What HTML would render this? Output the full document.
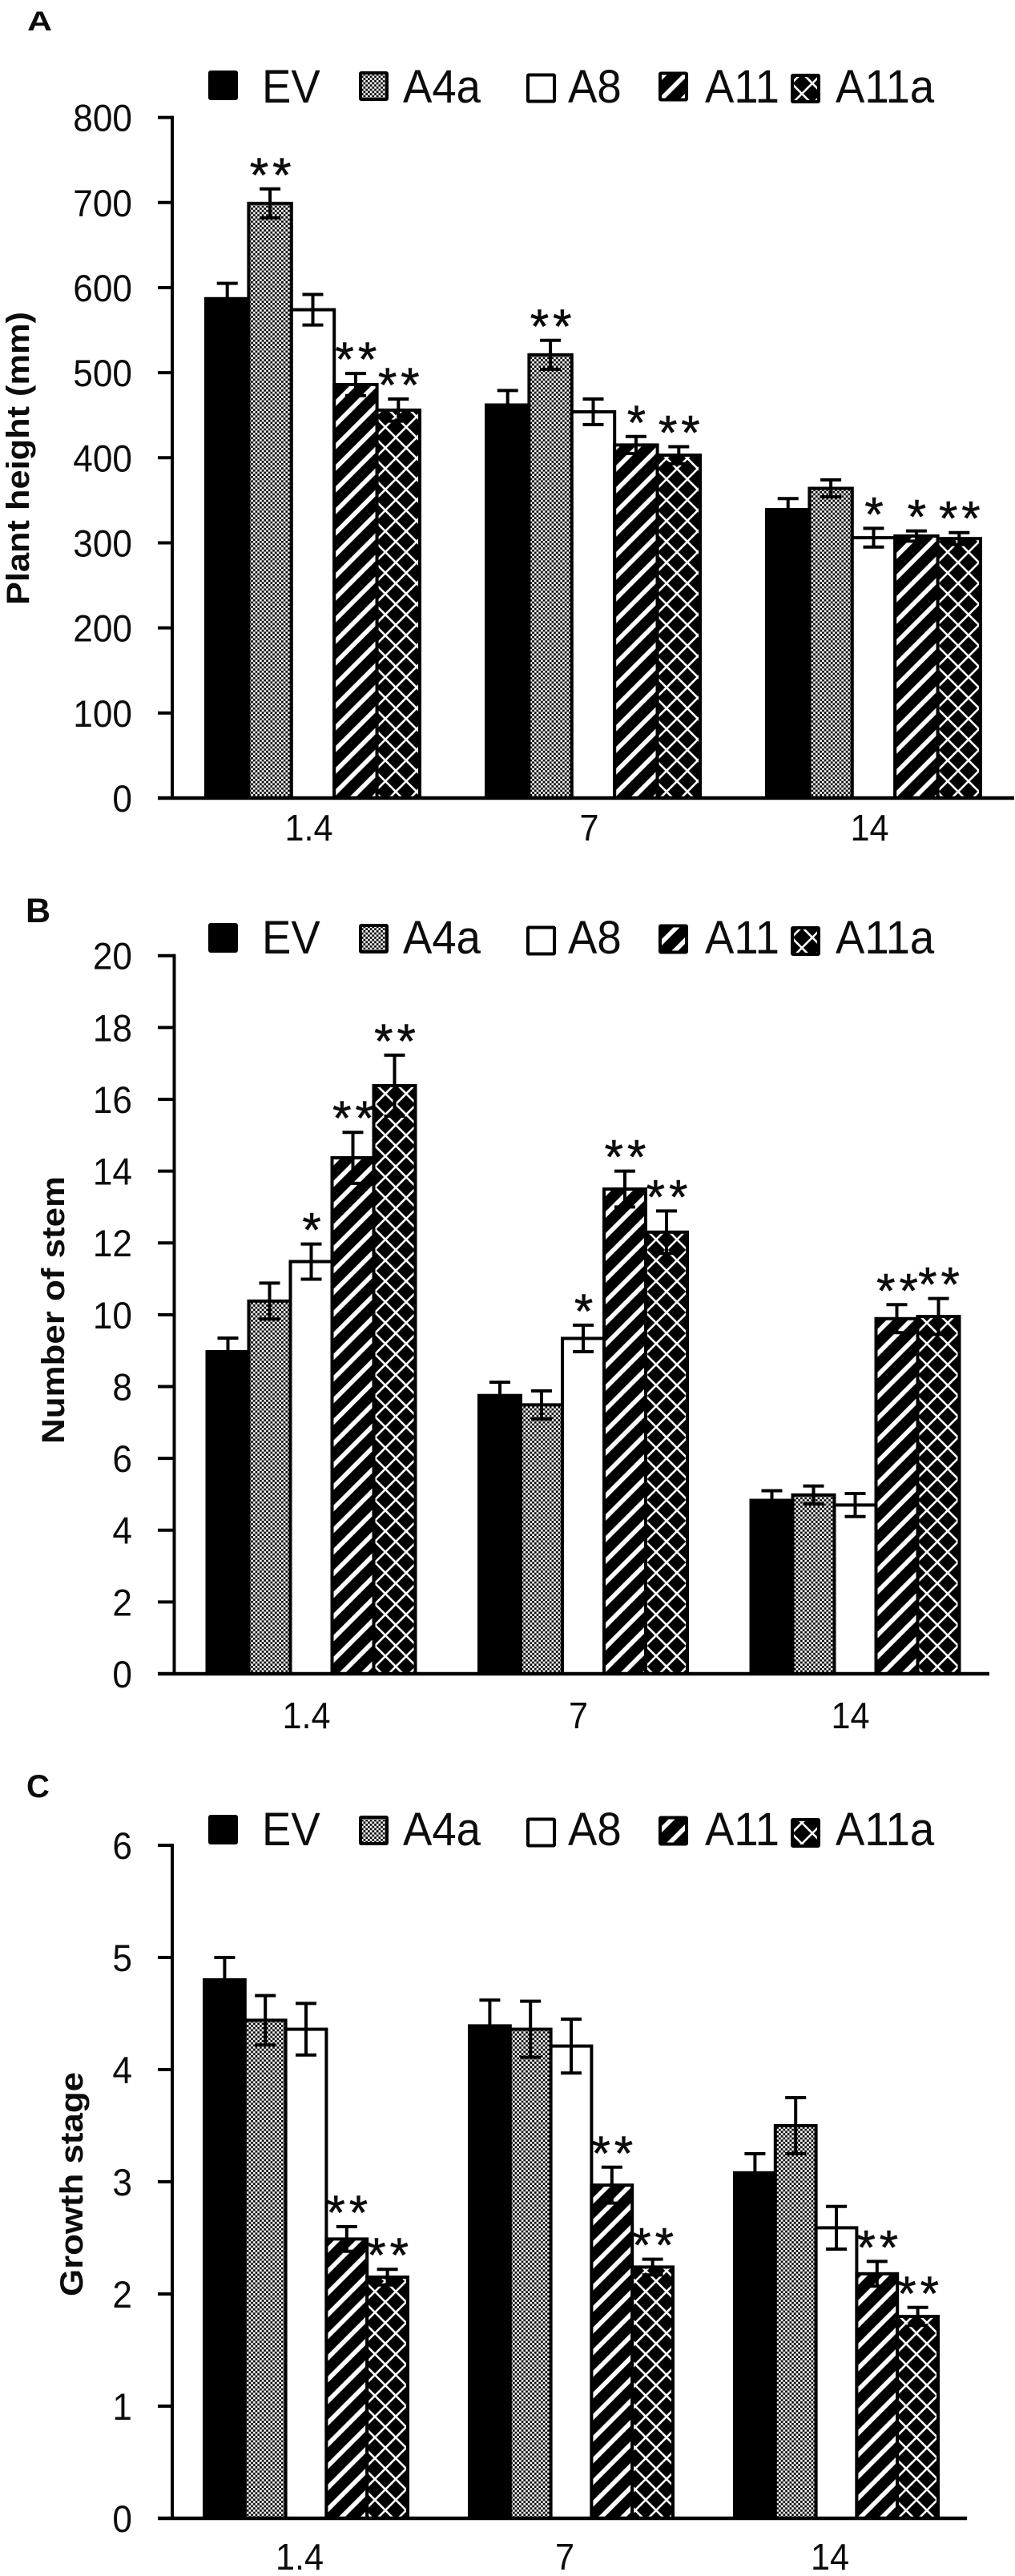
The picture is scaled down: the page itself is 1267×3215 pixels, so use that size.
<!DOCTYPE html>
<html lang="en">
<head>
<meta charset="utf-8">
<title>Plant height, number of stem and growth stage</title>
<style>
html,body{margin:0;padding:0;background:#fff;width:1267px;height:3215px;overflow:hidden}
svg{display:block;position:absolute;left:0;top:0}
text{font-family:"Liberation Sans",Arial,sans-serif;fill:#0c0c0c}
</style>
</head>
<body>
<svg id="figure" xmlns="http://www.w3.org/2000/svg" width="1267" height="3215" viewBox="0 0 1267 3215">
<defs>
<pattern id="pat-check" patternUnits="userSpaceOnUse" width="5.4" height="5.4">
<rect width="5.4" height="5.4" fill="#fff"/>
<rect width="2.7" height="2.7" fill="#000"/>
<rect x="2.7" y="2.7" width="2.7" height="2.7" fill="#000"/>
</pattern>
<pattern id="pat-stripe" patternUnits="userSpaceOnUse" width="27" height="27">
<rect width="27" height="27" fill="#000"/>
<polygon points="0,27 27,0 27,8 8,27" fill="#fff"/>
<polygon points="0,0 0,8 8,0" fill="#fff"/>
</pattern>
<pattern id="pat-lattice" patternUnits="userSpaceOnUse" width="26" height="26">
<rect width="26" height="26" fill="#000"/>
<path d="M0 0L26 26M26 0L0 26" stroke="#fff" stroke-width="2.6"/>
</pattern>
</defs>
</svg>
<script>
const categories = ['1.4', '7', '14'];
const seriesNames = ['EV', 'A4a', 'A8', 'A11', 'A11a'];

const heightTicks = [0, 100, 200, 300, 400, 500, 600, 700, 800];
const heightEV = [587, 462, 339];
const heightA4a = [699, 521, 364];
const heightA8 = [574, 454, 306];
const heightA11 = [486, 415, 308];
const heightA11a = [456, 403, 305];
const heightErrEV = [18, 17, 13];
const heightErrA4a = [17, 17, 10];
const heightErrA8 = [18, 15, 11];
const heightErrA11 = [13, 10, 6];
const heightErrA11a = [13, 10, 7];
const heightStarsEV = ['', '', ''];
const heightStarsA4a = ['**', '**', ''];
const heightStarsA8 = ['', '', '*'];
const heightStarsA11 = ['**', '*', '*'];
const heightStarsA11a = ['**', '**', '**'];

const stemTicks = [0, 2, 4, 6, 8, 10, 12, 14, 16, 18, 20];
const stemEV = [8.97, 7.75, 4.83];
const stemA4a = [10.38, 7.49, 4.98];
const stemA8 = [11.48, 9.34, 4.7];
const stemA11 = [14.37, 13.5, 9.89];
const stemA11a = [16.38, 12.3, 9.95];
const stemErrEV = [0.38, 0.37, 0.27];
const stemErrA4a = [0.5, 0.39, 0.25];
const stemErrA8 = [0.49, 0.37, 0.32];
const stemErrA11 = [0.71, 0.5, 0.39];
const stemErrA11a = [0.85, 0.59, 0.5];
const stemStarsEV = ['', '', ''];
const stemStarsA4a = ['', '', ''];
const stemStarsA8 = ['*', '*', ''];
const stemStarsA11 = ['**', '**', '**'];
const stemStarsA11a = ['**', '**', '**'];

const stageTicks = [0, 1, 2, 3, 4, 5, 6];
const stageEV = [4.8, 4.39, 3.08];
const stageA4a = [4.44, 4.36, 3.5];
const stageA8 = [4.36, 4.21, 2.59];
const stageA11 = [2.49, 2.97, 2.18];
const stageA11a = [2.15, 2.24, 1.8];
const stageErrEV = [0.2, 0.23, 0.17];
const stageErrA4a = [0.22, 0.25, 0.25];
const stageErrA8 = [0.23, 0.24, 0.19];
const stageErrA11 = [0.11, 0.16, 0.11];
const stageErrA11a = [0.07, 0.07, 0.08];
const stageStarsEV = ['', '', ''];
const stageStarsA4a = ['', '', ''];
const stageStarsA8 = ['', '', ''];
const stageStarsA11 = ['**', '**', '**'];
const stageStarsA11a = ['**', '**', '**'];

const fills = ['#000', 'url(#pat-check)', '#fff', 'url(#pat-stripe)', 'url(#pat-lattice)'];
const svg = document.getElementById('figure');
const NS = 'http://www.w3.org/2000/svg';

function make(parent, tag, attrs, content) {
  const el = document.createElementNS(NS, tag);
  for (const k in attrs) el.setAttribute(k, attrs[k]);
  if (content !== undefined) el.textContent = content;
  parent.appendChild(el);
  return el;
}

function squeezed(x, y) {
  return 'translate(' + x + ',' + y + ') scale(0.94,1)';
}

function drawPanel(p) {
  const g = make(svg, 'g', {});
  
  
  const yScale = v => p.y0 - (v / p.max) * (p.y0 - p.yTop);
  const xScale = (c, s) => p.x0 + c * p.step + s * p.barW;

  const letter = make(g, 'text', {
    transform: 'translate(' + p.letterX + ',' + p.letterY + ') scale(1,' + p.letterScaleY + ')',
    'font-size': p.letterSize, 'font-weight': 'bold'
  }, p.letter);
  
  

  const title = make(g, 'text', {
    transform: 'translate(' + p.titleX + ',' + p.titleY + ') rotate(-90)',
    'text-anchor': 'middle', 'font-size': 40, 'font-weight': 'bold',
    textLength: p.titleLen, lengthAdjust: 'spacingAndGlyphs'
  }, p.title);
  
  

  // Legend
  const swatchOffsets = [0, 188, 397, 562, 727];
  const swatchDy = [0, 1, 3.5, 1.5, 4];
  const legendTextX = [327, 503, 709, 880, 1043];
  seriesNames.forEach((name, s) => {
    const entry = make(g, 'g', {});
    
    
    make(entry, 'rect', {
      x: 260 + swatchOffsets[s] + 2, y: p.legendY + swatchDy[s] + 2, width: 33, height: 33,
      fill: fills[s], stroke: '#000', 'stroke-width': 4, rx: 1
    });
    make(entry, 'text', {transform: squeezed(legendTextX[s], p.legendBase), 'font-size': 58}, name);
  });

  // Bars
  p.means.forEach((vals, s) => {
    vals.forEach((v, c) => {
      const bar = make(g, 'rect', {
        x: xScale(c, s), y: yScale(v), width: p.barW, height: p.y0 - yScale(v),
        fill: fills[s], stroke: '#000', 'stroke-width': 4
      });
      
      
    });
  });

  // Error bars and significance stars
  p.means.forEach((vals, s) => {
    vals.forEach((v, c) => {
      const cx = xScale(c, s) + p.barW / 2;
      const hi = yScale(v + p.errs[s][c]);
      const lo = yScale(v - p.errs[s][c]);
      const err = make(g, 'path', {
        d: 'M' + (cx - 13) + ' ' + hi + 'H' + (cx + 13) + 'M' + cx + ' ' + hi + 'V' + lo + 'M' + (cx - 13) + ' ' + lo + 'H' + (cx + 13),
        fill: 'none', stroke: '#000', 'stroke-width': 4
      });
      
      
      if (p.stars[s][c]) {
        const star = make(g, 'text', {
          x: cx + 3, y: hi + 3, 'text-anchor': 'middle', 'font-size': 60, 'letter-spacing': 5,
          stroke: '#0c0c0c', 'stroke-width': 0.6
        }, p.stars[s][c]);
        
        
      }
    });
  });

  // Axes
  const yAxis = make(g, 'line', {x1: p.axisX, x2: p.axisX, y1: p.yTop - 2, y2: p.y0, stroke: '#000', 'stroke-width': 4});
  
  
  const xAxis = make(g, 'line', {x1: 197, x2: p.axisRight, y1: p.y0, y2: p.y0, stroke: '#000', 'stroke-width': 4.5});
  
  

  p.ticks.forEach(t => {
    const y = yScale(t);
    const tick = make(g, 'line', {x1: 197, x2: p.axisX, y1: y, y2: y, stroke: '#000', 'stroke-width': 4});
    
    
    const label = make(g, 'text', {transform: squeezed(165, y + 17), 'text-anchor': 'end', 'font-size': 47}, String(t));
    
    
  });

  categories.forEach((cat, c) => {
    const label = make(g, 'text', {
      transform: squeezed(xScale(c, 2.5) + p.labelDx, p.labelY), 'text-anchor': 'middle', 'font-size': 46
    }, cat);
    
    
  });
}

drawPanel({
  key: 'height', letter: 'A', letterX: 34, letterY: 38, letterSize: 43, letterScaleY: 0.8,
  title: 'Plant height (mm)', titleX: 36, titleY: 572, titleLen: 366,
  y0: 996, yTop: 146.6, max: 800, axisX: 215, axisRight: 1266,
  x0: 257, barW: 53.4, step: 350, labelDx: -5, labelY: 1049,
  legendY: 88, legendBase: 128,
  ticks: heightTicks,
  means: [heightEV, heightA4a, heightA8, heightA11, heightA11a],
  errs: [heightErrEV, heightErrA4a, heightErrA8, heightErrA11, heightErrA11a],
  stars: [heightStarsEV, heightStarsA4a, heightStarsA8, heightStarsA11, heightStarsA11a]
});

drawPanel({
  key: 'stem', letter: 'B', letterX: 32, letterY: 1151, letterSize: 43, letterScaleY: 1,
  title: 'Number of stem', titleX: 80, titleY: 1635, titleLen: 334,
  y0: 2089, yTop: 1192.7, max: 20, axisX: 217.5, axisRight: 1235,
  x0: 258.5, barW: 52, step: 339.5, labelDx: -6, labelY: 2157,
  legendY: 1152, legendBase: 1190,
  ticks: stemTicks,
  means: [stemEV, stemA4a, stemA8, stemA11, stemA11a],
  errs: [stemErrEV, stemErrA4a, stemErrA8, stemErrA11, stemErrA11a],
  stars: [stemStarsEV, stemStarsA4a, stemStarsA8, stemStarsA11, stemStarsA11a]
});

drawPanel({
  key: 'stage', letter: 'C', letterX: 33, letterY: 2243, letterSize: 40, letterScaleY: 1,
  title: 'Growth stage', titleX: 103, titleY: 2726, titleLen: 280,
  y0: 3143, yTop: 2303, max: 6, axisX: 215, axisRight: 1207,
  x0: 255, barW: 50.8, step: 331, labelDx: -8, labelY: 3207,
  legendY: 2265, legendBase: 2303,
  ticks: stageTicks,
  means: [stageEV, stageA4a, stageA8, stageA11, stageA11a],
  errs: [stageErrEV, stageErrA4a, stageErrA8, stageErrA11, stageErrA11a],
  stars: [stageStarsEV, stageStarsA4a, stageStarsA8, stageStarsA11, stageStarsA11a]
});
</script>
</body>
</html>
